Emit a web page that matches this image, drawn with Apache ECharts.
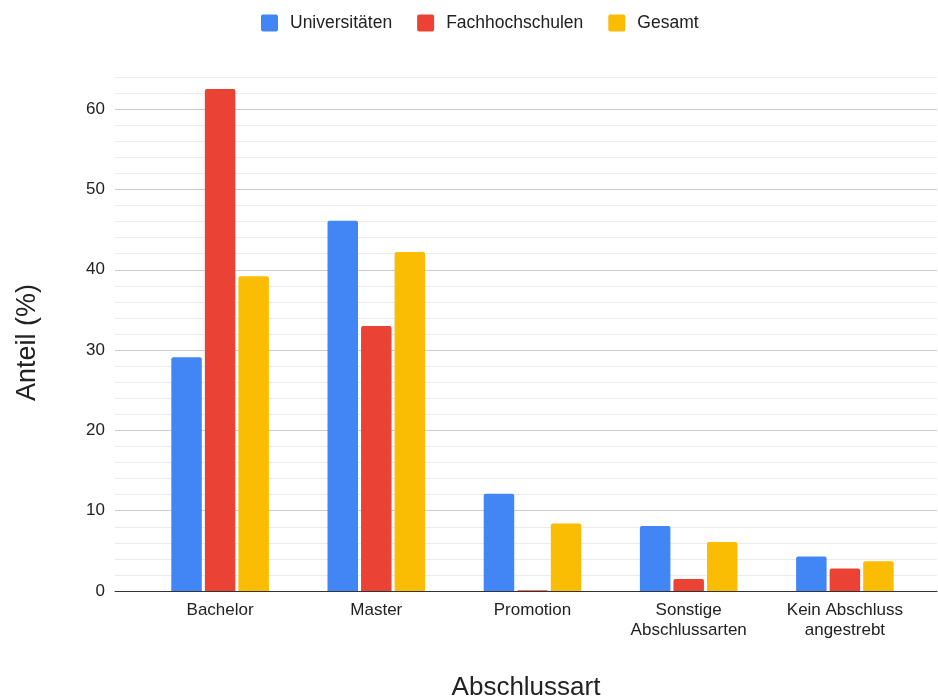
<!DOCTYPE html>
<html>
<head>
<meta charset="utf-8">
<script src="https://cdn.jsdelivr.net/npm/echarts@6/dist/echarts.min.js"></script>
<style>
  html, body { margin: 0; padding: 0; background: #fff; }
  #chart { width: 938px; height: 697px; }
</style>
</head>
<body>
<div id="chart"></div>
<script>
// Abschlussart nach Hochschultyp (Anteil in %)
const categories = ['Bachelor', 'Master', 'Promotion', 'Sonstige\nAbschlussarten', 'Kein Abschluss\nangestrebt'];
const universitaeten = [29.1, 46.1, 12.1, 8.1, 4.3];
const fachhochschulen = [62.5, 33.0, 0.1, 1.5, 2.8];
const gesamt = [39.2, 42.2, 8.4, 6.1, 3.7];
const yTickLabels = [0, 10, 20, 30, 40, 50, 60];
const yMax = 64;

const FONT = '"Liberation Sans", Arial, sans-serif';
const TEXT = '#222';

const chart = echarts.init(document.getElementById('chart'), null, { renderer: 'canvas' });

const barBase = {
  type: 'bar',
  xAxisIndex: 1,
  yAxisIndex: 1,
  barWidth: 30.5,
  barGap: '10%',
  itemStyle: { borderRadius: [2, 2, 0, 0] }
};

chart.setOption({
  animation: false,
  textStyle: { fontFamily: FONT },
  color: ['#4285F4', '#EA4335', '#FBBC04'],
  legend: {
    top: 9,
    left: 256,
    itemWidth: 17,
    itemHeight: 17,
    itemGap: 25,
    icon: 'path://M2,0 L15,0 Q17,0 17,2 L17,15 Q17,17 15,17 L2,17 Q0,17 0,15 L0,2 Q0,0 2,0 Z',
    textStyle: { fontFamily: FONT, fontSize: 17.5, color: TEXT, padding: [0, 0, 0, 7] },
    data: ['Universitäten', 'Fachhochschulen', 'Gesamt']
  },
  grid: [
    // background grid: gridlines, baseline and y labels
    { left: 115, right: 1, top: 77, bottom: 106, outerBoundsMode: 'none', containLabel: false },
    // bar area with category spacing
    { left: 142, right: 15, top: 77, bottom: 106, outerBoundsMode: 'none', containLabel: false }
  ],
  xAxis: [
    {
      gridIndex: 0,
      type: 'value',
      min: 0,
      max: 1,
      axisLine: { show: true, onZero: false, lineStyle: { color: '#333', width: 1 } },
      axisTick: { show: false },
      axisLabel: { show: false },
      splitLine: { show: false },
      name: 'Abschlussart',
      nameLocation: 'middle',
      nameGap: 84,
      nameTextStyle: { fontFamily: FONT, fontSize: 26, color: TEXT }
    },
    {
      gridIndex: 1,
      type: 'category',
      data: categories,
      axisLine: { show: false },
      axisTick: { show: false },
      axisLabel: { fontFamily: FONT, fontSize: 17, color: TEXT, margin: 9, lineHeight: 20, interval: 0 }
    }
  ],
  yAxis: [
    {
      gridIndex: 0,
      type: 'value',
      min: 0,
      max: yMax,
      interval: 2,
      axisLine: { show: false },
      axisTick: { show: false },
      axisLabel: {
        fontFamily: FONT, fontSize: 17, color: TEXT, margin: 10,
        formatter: v => (yTickLabels.includes(v) ? String(v) : '')
      },
      splitLine: {
        show: true,
        lineStyle: { color: ['#cccccc', '#ebebeb', '#ebebeb', '#ebebeb', '#ebebeb'], width: 1 }
      },
      name: 'Anteil (%)',
      nameLocation: 'middle',
      nameGap: 74,
      nameTextStyle: { fontFamily: FONT, fontSize: 27, color: TEXT, padding: [0, 17, 0, 0] }
    },
    {
      gridIndex: 1,
      type: 'value',
      min: 0,
      max: yMax,
      show: false,
      splitLine: { show: false }
    }
  ],
  series: [
    Object.assign({ name: 'Universitäten', data: universitaeten }, barBase),
    Object.assign({ name: 'Fachhochschulen', data: fachhochschulen }, barBase),
    Object.assign({ name: 'Gesamt', data: gesamt }, barBase)
  ]
});
</script>
</body>
</html>
